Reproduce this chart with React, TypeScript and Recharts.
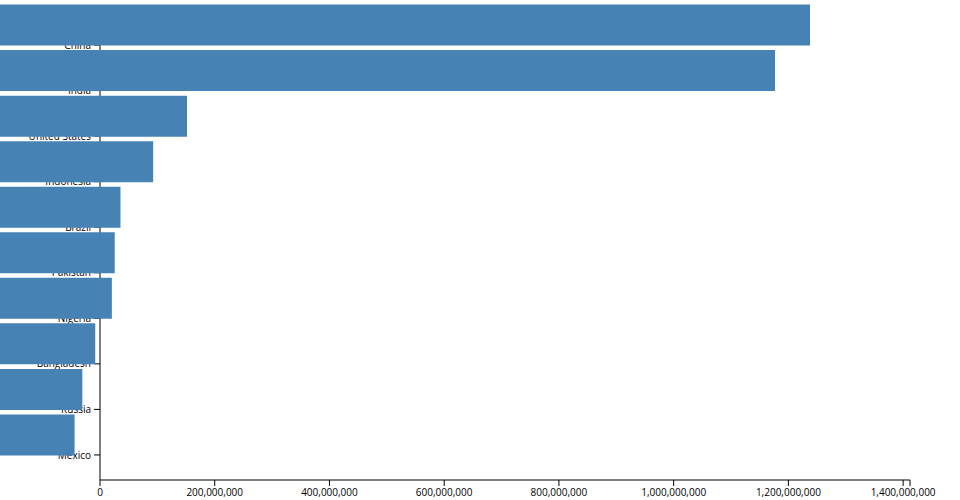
import React from 'react';
import { BarChart, Bar, XAxis, YAxis } from 'recharts';

const countries = [
  'China',
  'India',
  'United States',
  'Indonesia',
  'Brazil',
  'Pakistan',
  'Nigeria',
  'Bangladesh',
  'Russia',
  'Mexico',
];

const population = [
  1412000000, 1351000000, 326000000, 267000000, 210000000,
  200000000, 195000000, 166000000, 143500000, 130000000,
];

const xTicks = [0, 200000000, 400000000, 600000000, 800000000, 1000000000, 1200000000, 1400000000];

const data = countries.map((name, i) => ({ name, population: population[i] }));
const maxPop = Math.max(...population);

const font = '"Open Sans", sans-serif';
const axisColor = '#000';

// bars sit in their own svg that is not shifted by the axis margins
const App: React.FC = () => {
  return (
    <div style={{ position: 'absolute', left: 0, top: 0, width: 960, height: 500, fontFamily: font }}>
      <div style={{ position: 'absolute', left: 0, top: 0 }}>
        <BarChart
          width={960}
          height={500}
          data={data}
          layout="vertical"
          margin={{ top: 20, right: 50, bottom: 0, left: 0 }}
        >
          <XAxis
            type="number"
            domain={[0, maxPop]}
            allowDataOverflow
            ticks={[...xTicks, maxPop]}
            interval={0}
            tickFormatter={(v: number) => (v === maxPop ? '' : v.toLocaleString('en-US'))}
            height={20}
            tickSize={6}
            tickMargin={3}
            stroke={axisColor}
            tick={{ fill: axisColor, fontSize: 10, fontFamily: font }}
          />
          <YAxis
            type="category"
            dataKey="name"
            width={100}
            padding={{ top: 2.275, bottom: 2.275 }}
            tickSize={6}
            tickMargin={3}
            interval={0}
            stroke={axisColor}
            tick={{ fill: axisColor, fontSize: 10, fontFamily: font }}
          />
        </BarChart>
      </div>
      <div style={{ position: 'absolute', left: 0, top: 0, pointerEvents: 'none' }}>
        <BarChart
          width={960}
          height={500}
          data={data}
          layout="vertical"
          margin={{ top: 0, right: 150, bottom: 40, left: 0 }}
          barCategoryGap="5%"
        >
          <XAxis type="number" domain={[0, 'dataMax']} hide />
          <YAxis type="category" dataKey="name" hide padding={{ top: 2.275, bottom: 2.275 }} />
          <Bar dataKey="population" fill="steelblue" isAnimationActive={false} />
        </BarChart>
      </div>
    </div>
  );
};

export default App;
